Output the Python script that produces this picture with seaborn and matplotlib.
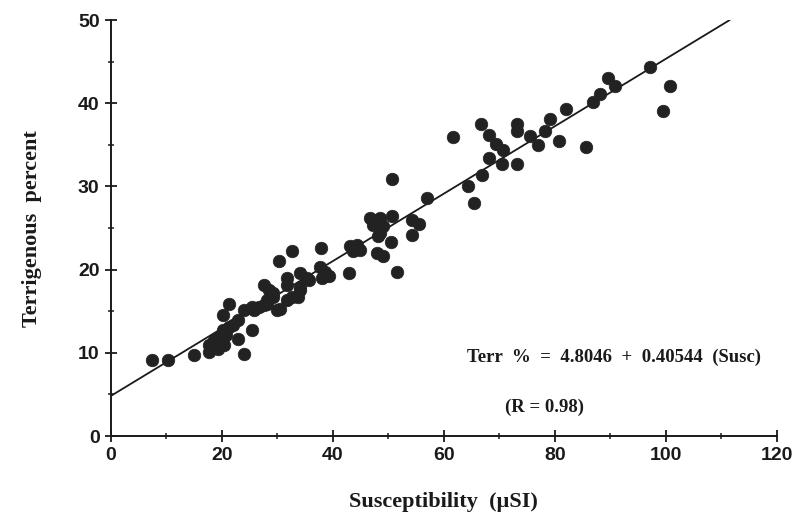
import matplotlib
matplotlib.use("Agg")
import matplotlib.pyplot as plt
from matplotlib.ticker import MultipleLocator
import numpy as np
import pandas as pd
import seaborn as sns

# Magnetic susceptibility (uSI) and terrigenous content (%) of each sample
susceptibility = [
    7.5, 10.3, 15.1, 17.7, 17.8, 18.7, 19.6, 20.5, 19.3, 20.2, 21.4, 20.8,
    22.9, 24.1, 25.4, 20.2, 21.4, 22.9, 22.0, 24.1, 25.4, 25.9, 26.8, 27.7,
    28.1, 29.2, 28.6, 27.7, 29.9, 29.2, 28.1, 30.5, 31.7, 32.6, 33.8, 34.1,
    31.7, 34.1, 31.7, 34.1, 35.3, 35.7, 30.4, 32.7, 37.8, 37.7, 38.6, 38.0,
    39.4, 42.9, 43.1, 44.3, 44.9, 43.7, 46.7, 48.5, 50.6, 47.3, 49.1, 48.5,
    48.2, 50.5, 47.9, 49.1, 50.6, 51.6, 54.2, 55.6, 54.2, 56.9, 61.7, 64.3,
    65.4, 66.8, 66.7, 68.1, 69.4, 70.6, 68.2, 70.5, 73.2, 73.2, 73.2, 75.6,
    76.9, 78.2, 79.2, 80.7, 82.0, 85.7, 86.8, 88.1, 89.5, 90.9, 97.1, 99.4,
    100.8,
]
terrigenous = [
    9.1, 9.1, 9.7, 10.1, 10.9, 11.5, 11.9, 10.9, 10.5, 12.7, 13.1, 12.1,
    11.7, 9.9, 12.7, 14.5, 15.9, 13.9, 13.3, 15.1, 15.5, 15.1, 15.5, 15.7,
    16.3, 16.7, 17.5, 18.1, 15.1, 17.2, 15.9, 15.3, 16.3, 16.7, 16.7, 17.5,
    18.1, 17.9, 19.0, 19.6, 19.0, 18.8, 21.0, 22.3, 22.6, 20.3, 19.7, 19.0,
    19.2, 19.6, 22.8, 23.0, 22.4, 22.2, 26.2, 26.2, 26.4, 25.4, 25.2, 24.4,
    24.0, 23.3, 22.0, 21.6, 30.9, 19.7, 26.0, 25.5, 24.2, 28.6, 36.0, 30.0,
    28.0, 31.4, 37.5, 36.2, 35.1, 34.4, 33.4, 32.7, 37.5, 36.7, 32.7, 36.1,
    35.0, 36.7, 38.1, 35.5, 39.3, 34.8, 40.1, 41.1, 43.0, 42.1, 44.4, 39.1,
    42.1,
]

# Least-squares fit quoted on the chart
intercept = 4.8046
slope = 0.40544
r_value = 0.98
fit_x = [0.0, 111.5]

x_ticks = [0, 20, 40, 60, 80, 100, 120]
y_ticks = [0, 10, 20, 30, 40, 50]

samples = pd.DataFrame({"susc": susceptibility, "terr": terrigenous})
fit = pd.DataFrame({"susc": fit_x})
fit["terr"] = intercept + slope * fit["susc"]

sns.set_style("ticks")
plt.rcParams["font.family"] = ["Liberation Sans", "DejaVu Sans"]

fig = plt.figure(figsize=(7.96, 5.16), dpi=100)
ax = fig.add_axes([0.139, 0.155, 0.837, 0.806])

sns.lineplot(data=fit, x="susc", y="terr", ax=ax, color="#1a1a1a",
             linewidth=1.3, zorder=2)
sns.scatterplot(data=samples, x="susc", y="terr", ax=ax, color="#222222",
                s=82, edgecolor="#222222", linewidth=0.5, zorder=3)

ax.set_xlim(0, 120)
ax.set_ylim(0, 50)
ax.set_xticks(x_ticks)
ax.set_yticks(y_ticks)
ax.xaxis.set_minor_locator(MultipleLocator(10))
ax.yaxis.set_minor_locator(MultipleLocator(5))

for side in ("top", "right"):
    ax.spines[side].set_visible(False)
for side in ("left", "bottom"):
    ax.spines[side].set_color("#1a1a1a")
    ax.spines[side].set_linewidth(1.4)

ax.tick_params(axis="both", which="major", direction="inout", length=8,
               width=1.3, color="#1a1a1a", labelsize=14, pad=4)
ax.tick_params(axis="both", which="minor", direction="inout", length=5,
               width=1.1, color="#1a1a1a")
for lbl in ax.get_xticklabels() + ax.get_yticklabels():
    lbl.set_fontweight("bold")
    lbl.set_color("#1a1a1a")

serif = ["Liberation Serif", "DejaVu Serif"]
ax.set_xlabel("Susceptibility  (\u00b5SI)", family=serif, fontweight="bold",
              fontsize=16, color="#1a1a1a", labelpad=20)
ax.set_ylabel("Terrigenous  percent", family=serif, fontweight="bold",
              fontsize=16, color="#1a1a1a", labelpad=26)

ax.text(90.6, 9.4, f"Terr  %  =  {intercept}  +  {slope}  (Susc)",
        family=serif, fontweight="bold", fontsize=13.5, color="#1a1a1a",
        ha="center", va="center")
ax.text(78.2, 3.5, f"(R = {r_value})", family=serif, fontweight="bold",
        fontsize=13.5, color="#1a1a1a", ha="center", va="center")

fig.savefig("out.png", dpi=100, facecolor="white")
